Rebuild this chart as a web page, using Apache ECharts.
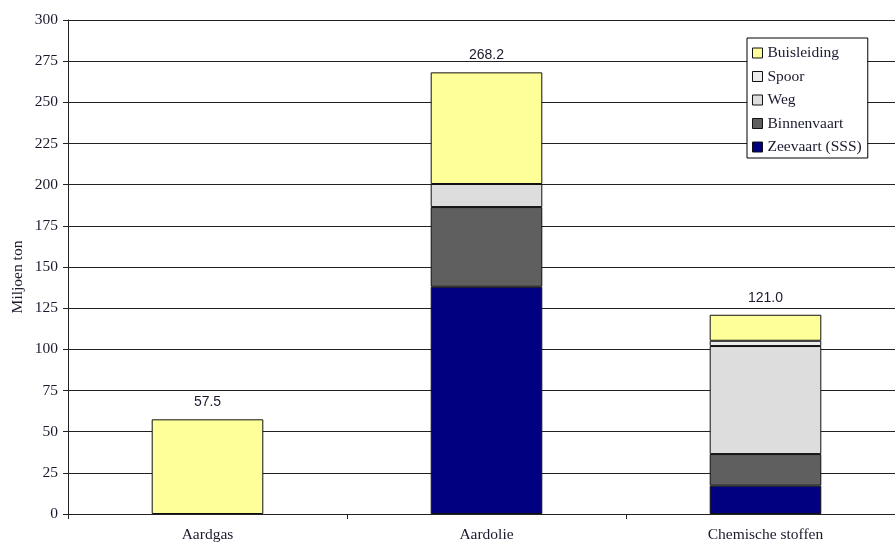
<!DOCTYPE html>
<html><head><meta charset="utf-8">
<script src="https://cdn.jsdelivr.net/npm/echarts@6/dist/echarts.min.js"></script>
<style>html,body{margin:0;padding:0;background:#fff}#c{width:895px;height:545px}</style>
</head><body><div id="c"></div>
<script>
const categories = ['Aardgas', 'Aardolie', 'Chemische stoffen'];
const zeevaart = [null, 138.0, 17.2];
const binnenvaart = [null, 48.4, 19.2];
const weg = [null, 14.0, 65.6];
const spoor = [null, null, 3.2];
const buisleiding = [57.5, 67.8, 15.8];
const totals = ['57.5', '268.2', '121.0'];
const yTicks = [0, 300, 25];
const yName = 'Miljoen ton';

const font = 'Liberation Serif';
const txt = '#1a1a2e';
const border = {borderColor: '#111', borderWidth: 1};
function mk(name, data, color, extra) {
  return Object.assign({
    name, type: 'bar', stack: 's', data, barWidth: '40%',
    itemStyle: Object.assign({color}, border), animation: false
  }, extra || {});
}
const chart = echarts.init(document.getElementById('c'), null, {renderer: 'canvas'});
chart.setOption({
  animation: false,
  textStyle: {fontFamily: font},
  grid: {left: 68, top: 20, bottom: 31, width: 837, outerBoundsMode: 'none', containLabel: false},
  legend: {
    orient: 'vertical', left: 747, top: 38,
    data: ['Buisleiding', 'Spoor', 'Weg', 'Binnenvaart', 'Zeevaart (SSS)'],
    backgroundColor: '#fff', borderColor: '#000', borderWidth: 1,
    padding: [7, 6, 3, 5], itemGap: 7.5, itemWidth: 10, itemHeight: 10,
    icon: 'rect', textStyle: {fontFamily: font, fontSize: 15.5, color: txt},
    itemStyle: {borderColor: '#111', borderWidth: 1}
  },
  graphic: [{
    type: 'text', x: 18, y: 277, rotation: Math.PI / 2,
    style: {text: yName, fontFamily: font, fontSize: 15.5, fill: txt, align: 'center', verticalAlign: 'middle'}
  }],
  xAxis: {
    type: 'category', data: categories,
    axisLine: {lineStyle: {color: '#222', width: 1}},
    axisTick: {show: true, length: 5, lineStyle: {color: '#222'}},
    axisLabel: {fontFamily: font, fontSize: 15.5, color: txt, margin: 13}
  },
  yAxis: {
    type: 'value', min: yTicks[0], max: yTicks[1], interval: yTicks[2],
    axisLine: {show: true, lineStyle: {color: '#222'}},
    axisTick: {show: true, length: 5, lineStyle: {color: '#222'}},
    axisLabel: {fontFamily: font, fontSize: 15.5, color: txt, margin: 10},
    splitLine: {lineStyle: {color: '#222', width: 1}}
  },
  series: [
    mk('Zeevaart (SSS)', zeevaart, '#000080'),
    mk('Binnenvaart', binnenvaart, '#5f5f5f'),
    mk('Weg', weg, '#dddddd'),
    mk('Spoor', spoor, '#ececec'),
    mk('Buisleiding', buisleiding, '#ffff99', {
      label: {show: true, position: 'top', distance: 10, fontFamily: 'Liberation Sans', fontSize: 14, color: txt,
        formatter: p => totals[p.dataIndex]}
    })
  ]
});
</script></body></html>
